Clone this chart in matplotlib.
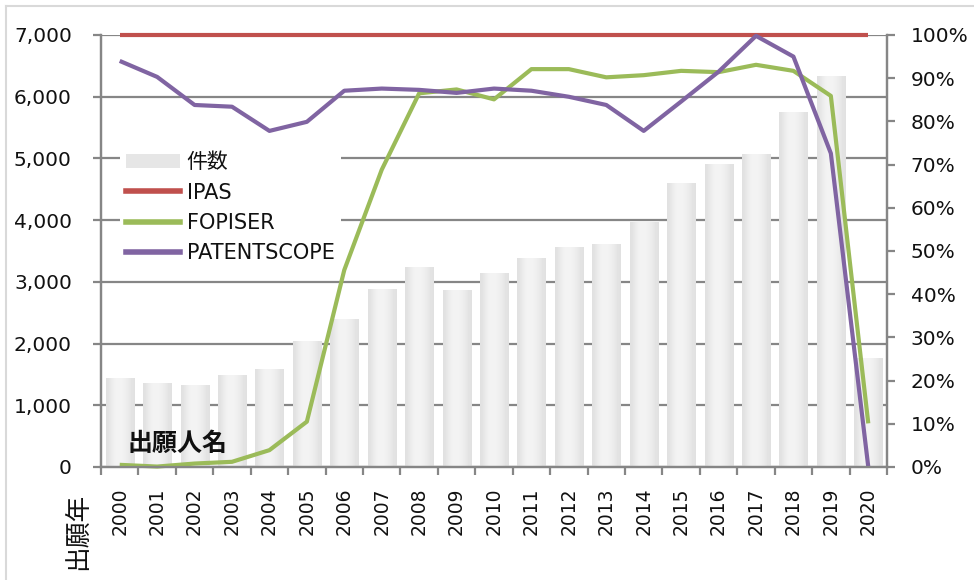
import matplotlib
matplotlib.use("Agg")
import matplotlib.pyplot as plt
import numpy as np
from matplotlib.patches import Patch
from matplotlib.lines import Line2D
from matplotlib.ticker import FuncFormatter, FixedLocator

plt.rcParams['font.family'] = ['DejaVu Sans', 'Noto Sans CJK JP']

years = [str(y) for y in range(2000, 2021)]
counts = [1435, 1366, 1334, 1496, 1593, 2047, 2403, 2889, 3246, 2862, 3149,
          3380, 3570, 3607, 3975, 4607, 4905, 5067, 5748, 6336, 1761]
ipas = [1.0] * 21
fopiser = [0.005, 0.001, 0.008, 0.012, 0.039, 0.105, 0.456, 0.688, 0.865, 0.874, 0.851,
           0.921, 0.921, 0.902, 0.907, 0.917, 0.914, 0.931, 0.917, 0.859, 0.101]
patentscope = [0.940, 0.903, 0.838, 0.834, 0.778, 0.799, 0.871, 0.876, 0.873, 0.866, 0.876,
               0.871, 0.857, 0.838, 0.778, 0.846, 0.915, 0.998, 0.950, 0.726, 0.0]

W, H = 974, 580
fig = plt.figure(figsize=(W / 100, H / 100), dpi=100)
L, R, T, B = 101, 887, 35, 467
ax = fig.add_axes([L / W, 1 - B / H, (R - L) / W, (B - T) / H])
ax2 = ax.twinx()

grid_c = '#868686'
x = np.arange(len(years))
bars = ax.bar(x, counts, width=0.75, color='#e9e9e9', zorder=2)
grad = np.array([[0.88, 0.93, 0.955, 0.955, 0.94, 0.915, 0.88]])
for b in bars:
    x0, w, h = b.get_x(), b.get_width(), b.get_height()
    im = ax.imshow(grad, cmap='gray', vmin=0, vmax=1, extent=(x0, x0 + w, 0, h),
                   aspect='auto', zorder=2.1, interpolation='bicubic')
    im.set_clip_path(b)
ax.set_xlim(-0.5, len(years) - 0.5)
ax.set_ylim(0, 7000)
ax.set_yticks(range(0, 7001, 1000))
ax.yaxis.set_major_formatter(FuncFormatter(lambda v, p: f"{int(v):,}"))
ax.yaxis.grid(True, color=grid_c, lw=1.6, zorder=0)
ax.set_axisbelow(True)

ax.set_xticks(x)
ax.set_xticklabels(years, rotation=90)
ax.xaxis.set_minor_locator(FixedLocator(np.arange(-0.5, len(years), 1.0)))
ax.tick_params(axis='x', which='major', length=0, pad=15, labelsize=13.5, colors='#111111')
ax.tick_params(axis='x', which='minor', length=6, width=1.6, color=grid_c)
ax.tick_params(axis='y', length=6, width=1.6, color=grid_c, pad=15, labelsize=14.5, labelcolor='#111111')

ax2.set_ylim(0, 1)
ax2.set_yticks(np.arange(0, 1.01, 0.1))
ax2.yaxis.set_major_formatter(FuncFormatter(lambda v, p: f"{int(round(v * 100))}%"))
ax2.tick_params(axis='y', length=6, width=1.6, color=grid_c, pad=11, labelsize=14.5, labelcolor='#111111')

ax2.plot(x, ipas, color='#c0504d', lw=3, clip_on=False, solid_capstyle='butt')
ax2.plot(x, fopiser, color='#9bbb59', lw=3, clip_on=False, solid_capstyle='butt')
ax2.plot(x, patentscope, color='#8064a2', lw=3, clip_on=False, solid_capstyle='butt')

for a in (ax, ax2):
    a.spines['top'].set_visible(False)
    for s in ('left', 'right', 'bottom'):
        a.spines[s].set_color(grid_c)
        a.spines[s].set_linewidth(1.6)

handles = [Patch(facecolor='#e6e6e6', edgecolor='none'),
           Line2D([], [], color='#c0504d', lw=4),
           Line2D([], [], color='#9bbb59', lw=4),
           Line2D([], [], color='#8064a2', lw=4)]
labels = ['件数', 'IPAS', 'FOPISER', 'PATENTSCOPE']
leg = ax2.legend(handles, labels, loc='upper left', bbox_to_anchor=(120 / W, 1 - 146 / H),
                 bbox_transform=fig.transFigure, frameon=True, facecolor='white',
                 edgecolor='none', framealpha=1, fancybox=False, fontsize=15,
                 handlelength=2.6, handletextpad=0.3, labelspacing=0.5,
                 borderpad=0.3, borderaxespad=0)
for t in leg.get_texts():
    t.set_color('#111111')

fig.text(178 / W, 1 - 444 / H, '出願人名', fontsize=18, fontweight='bold',
         family=['Noto Sans CJK JP'], ha='center', va='center', color='#111111')
fig.text(78 / W, 1 - 531 / H, '出願年', fontsize=18.5, rotation=90,
         family=['Noto Sans CJK JP'], ha='center', va='center', color='#111111')

# outer chart-area border
fig.add_artist(Line2D([6 / W, 6 / W], [0, 1 - 6 / H], transform=fig.transFigure,
                      color='#d9d9d9', lw=1.5))
fig.add_artist(Line2D([6 / W, 1], [1 - 6 / H, 1 - 6 / H], transform=fig.transFigure,
                      color='#d9d9d9', lw=1.5))

fig.savefig('out.png', dpi=100)
